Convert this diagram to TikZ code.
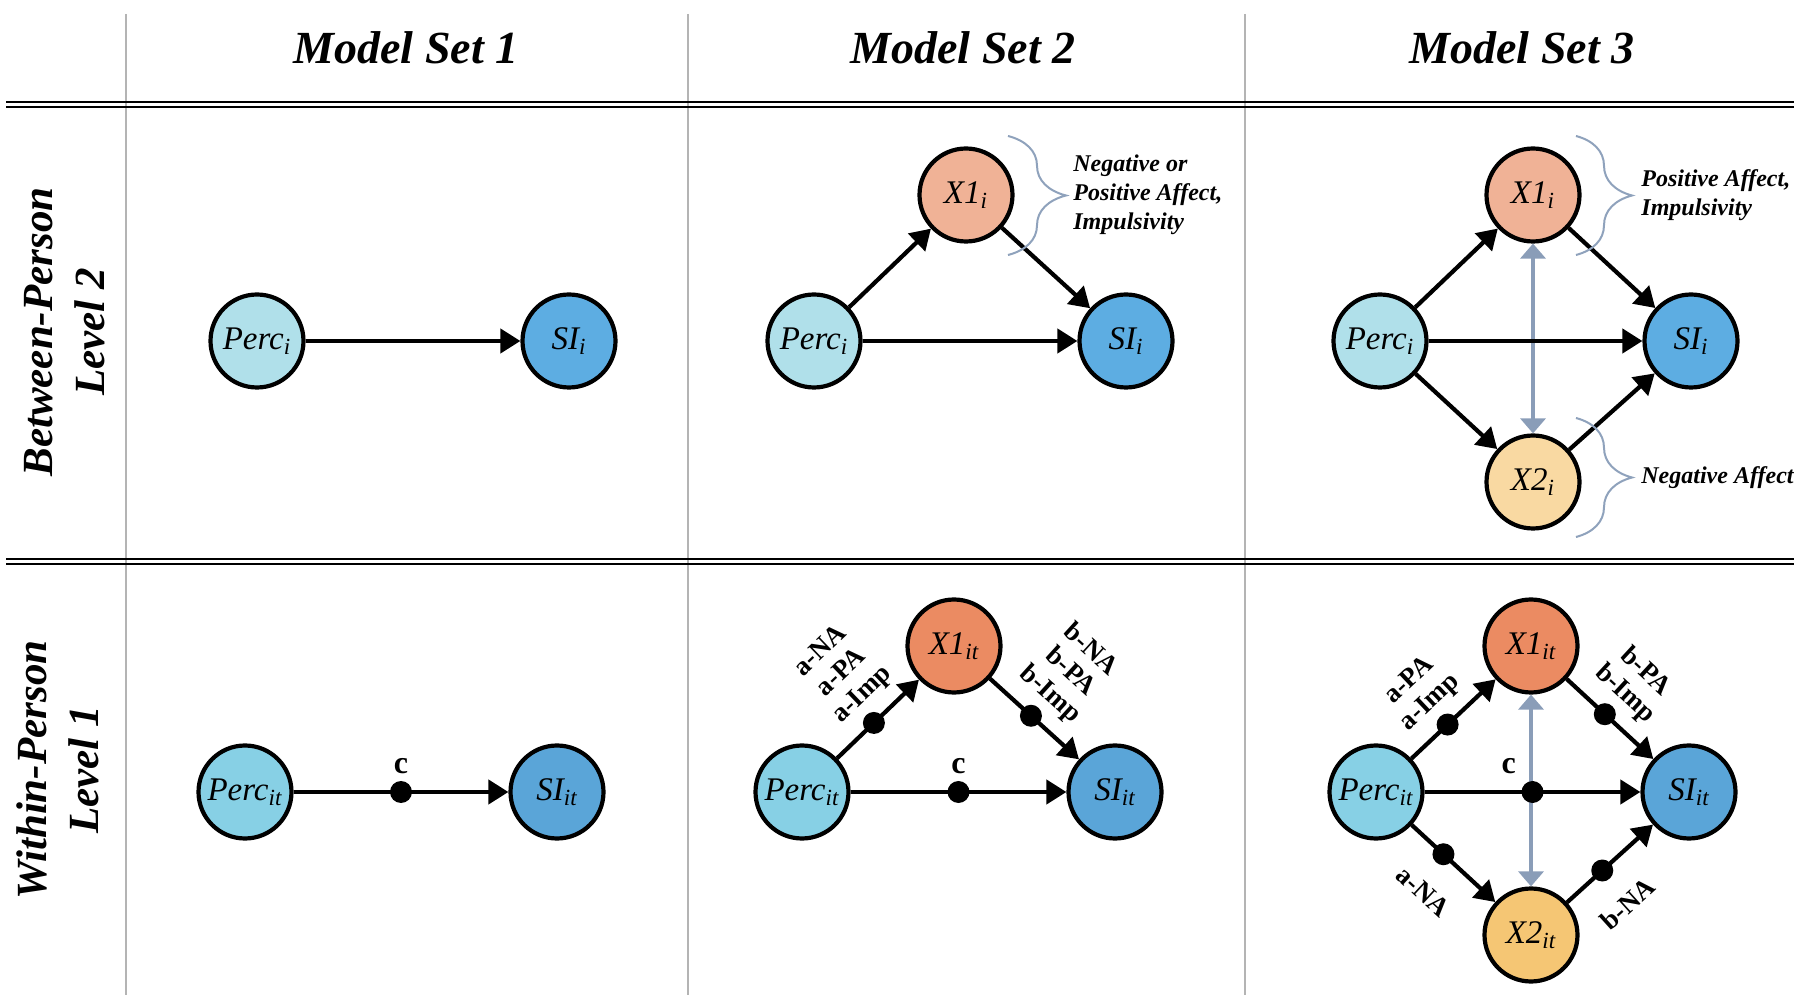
\documentclass[tikz,border=0pt]{standalone}
\usepackage{amsmath}
\usepackage{fontspec}
\setmainfont{Liberation Serif}
\usetikzlibrary{arrows.meta, decorations.pathreplacing}

\definecolor{percBetween}{HTML}{B0E0EA}
\definecolor{percWithin}{HTML}{87D0E5}
\definecolor{siBetween}{HTML}{5DADE2}
\definecolor{siWithin}{HTML}{5AA5D8}
\definecolor{xOneBetween}{HTML}{F0B296}
\definecolor{xOneWithin}{HTML}{EB8B62}
\definecolor{xTwoBetween}{HTML}{F9D9A2}
\definecolor{xTwoWithin}{HTML}{F5C674}
\definecolor{covaryGray}{HTML}{8A9DB8}
\definecolor{braceGray}{HTML}{8FA2BC}
\definecolor{ruleGray}{HTML}{B4B4B4}

\begin{document}
\begin{tikzpicture}[
        x=0.5pt, y=-0.5pt,
        var/.style={
          circle,
          draw,
          line width=2.1pt,
          minimum size=46.5pt,
          inner sep=0pt,
          font=\fontsize{16.5}{18}\selectfont\itshape
        },
        line/.style={-{Triangle[length=10pt, width=12pt]}, line width=2.1pt},
        covary/.style={
          {Triangle[length=7.5pt, width=12.5pt]}-{Triangle[length=7.5pt, width=12.5pt]},
          line width=1.7pt,
          draw=covaryGray
        },
        dot/.style={circle, fill, inner sep=0pt, minimum size=11pt},
        coef/.style={
          font=\fontsize{13.5}{15}\selectfont\bfseries,
          align=center,
          inner sep=0pt,
          sloped
        },
        cLabel/.style={font=\fontsize{16}{18}\selectfont\bfseries, inner sep=0pt},
        brace/.style={
          decorate,
          decoration={brace, amplitude=#1},
          draw=braceGray,
          line width=1pt
        },
        note/.style={
          font=\fontsize{12}{14.5}\selectfont\bfseries\itshape,
          align=left,
          anchor=west,
          inner sep=0pt
        },
        header/.style={font=\fontsize{23}{28}\selectfont\bfseries\itshape},
        rowLabel/.style={
          font=\fontsize{21.5}{26}\selectfont\bfseries\itshape,
          rotate=90,
          align=center
        },
        rule/.style={draw=ruleGray, line width=1pt}
    ]
    \useasboundingbox (0,0) rectangle (1800,999);

    % Table rules
    \draw[rule] (126,14) -- (126,995);
    \draw[rule] (688,14) -- (688,995);
    \draw[rule] (1245,14) -- (1245,995);
    \draw[line width=1.2pt] (6,102) -- (1794,102);
    \draw[line width=1.2pt] (6,107) -- (1794,107);
    \draw[line width=1.2pt] (6,559) -- (1794,559);
    \draw[line width=1.2pt] (6,564) -- (1794,564);

    % Headers
    \node[header] (headSet1) at (406,48) {Model Set 1};
    \node[header] (headSet2) at (963,48) {Model Set 2};
    \node[header] (headSet3) at (1522,48) {Model Set 3};
    \node[rowLabel] (rowBetween) at (65,332) {Between-Person\\Level 2};
    \node[rowLabel] (rowWithin) at (58,770) {Within-Person\\Level 1};

    % Model Set 1
    \node[var, fill=percBetween] (betweenPerc1) at (257,341) {Perc$_{\textit{i}}$};
    \node[var, fill=siBetween] (betweenSi1) at (569,341) {SI$_{\textit{i}}$};
    \node[var, fill=percWithin] (withinPerc1) at (245,792) {Perc$_{\textit{it}}$};
    \node[var, fill=siWithin] (withinSi1) at (557,792) {SI$_{\textit{it}}$};

    \draw[line] (betweenPerc1) -- (betweenSi1);
    \draw[line] (withinPerc1) -- node[dot] {} node[cLabel, above=8pt] {c} (withinSi1);

    % Model Set 2
    \node[var, fill=percBetween] (betweenPerc2) at (814,341) {Perc$_{\textit{i}}$};
    \node[var, fill=xOneBetween] (betweenXone2) at (966,195) {X1$_{\textit{i}}$};
    \node[var, fill=siBetween] (betweenSi2) at (1126,341) {SI$_{\textit{i}}$};
    \node[var, fill=percWithin] (withinPerc2) at (802,792) {Perc$_{\textit{it}}$};
    \node[var, fill=xOneWithin] (withinXone2) at (954,646) {X1$_{\textit{it}}$};
    \node[var, fill=siWithin] (withinSi2) at (1115,792) {SI$_{\textit{it}}$};

    \draw[line] (betweenPerc2) -- (betweenXone2);
    \draw[line] (betweenXone2) -- (betweenSi2);
    \draw[line] (betweenPerc2) -- (betweenSi2);
    \draw[line] (withinPerc2) -- node[dot, pos=0.45] {}
      node[coef, above=7pt, pos=0.55] {a-NA\\a-PA\\a-Imp} (withinXone2);
    \draw[line] (withinXone2) -- node[dot, pos=0.46] {}
      node[coef, above=7pt, pos=0.46] {b-NA\\b-PA\\b-Imp} (withinSi2);
    \draw[line] (withinPerc2) -- node[dot] {} node[cLabel, above=8pt] {c} (withinSi2);

    \draw[brace=29pt] (1008,136) -- (1008,255);
    \node[note] (noteSet2) at (1073,195) {Negative or\\Positive Affect,\\Impulsivity};

    % Model Set 3
    \node[var, fill=percBetween] (betweenPerc3) at (1380,341) {Perc$_{\textit{i}}$};
    \node[var, fill=xOneBetween] (betweenXone3) at (1533,195) {X1$_{\textit{i}}$};
    \node[var, fill=xTwoBetween] (betweenXtwo3) at (1533,482) {X2$_{\textit{i}}$};
    \node[var, fill=siBetween] (betweenSi3) at (1691,341) {SI$_{\textit{i}}$};
    \node[var, fill=percWithin] (withinPerc3) at (1376,792) {Perc$_{\textit{it}}$};
    \node[var, fill=xOneWithin] (withinXone3) at (1531,646) {X1$_{\textit{it}}$};
    \node[var, fill=xTwoWithin] (withinXtwo3) at (1531,935) {X2$_{\textit{it}}$};
    \node[var, fill=siWithin] (withinSi3) at (1689,792) {SI$_{\textit{it}}$};

    \draw[covary] (betweenXone3) -- (betweenXtwo3);
    \draw[line] (betweenPerc3) -- (betweenXone3);
    \draw[line] (betweenXone3) -- (betweenSi3);
    \draw[line] (betweenPerc3) -- (betweenXtwo3);
    \draw[line] (betweenXtwo3) -- (betweenSi3);
    \draw[line] (betweenPerc3) -- (betweenSi3);

    \draw[covary] (withinXone3) -- (withinXtwo3);
    \draw[line] (withinPerc3) -- node[dot, pos=0.43] {}
      node[coef, above=7pt, pos=0.45] {a-PA\\a-Imp} (withinXone3);
    \draw[line] (withinXone3) -- node[dot, pos=0.44] {}
      node[coef, above=7pt, pos=0.45] {b-PA\\b-Imp} (withinSi3);
    \draw[line] (withinPerc3) -- node[dot, pos=0.38] {}
      node[coef, below=15pt, pos=0.47] {a-NA} (withinXtwo3);
    \draw[line] (withinXtwo3) -- node[dot, pos=0.41] {}
      node[coef, below=15pt, pos=0.38] {b-NA} (withinSi3);
    \draw[line] (withinPerc3) -- node[dot] {} node[cLabel, above=8pt, pos=0.39] {c} (withinSi3);

    \draw[brace=28pt] (1576,136) -- (1576,255);
    \draw[brace=28pt] (1576,418) -- (1576,537);
    \node[note] (noteSet3top) at (1641,195) {Positive Affect,\\Impulsivity};
    \node[note] (noteSet3bot) at (1641,478) {Negative Affect};

\end{tikzpicture}
\end{document}
